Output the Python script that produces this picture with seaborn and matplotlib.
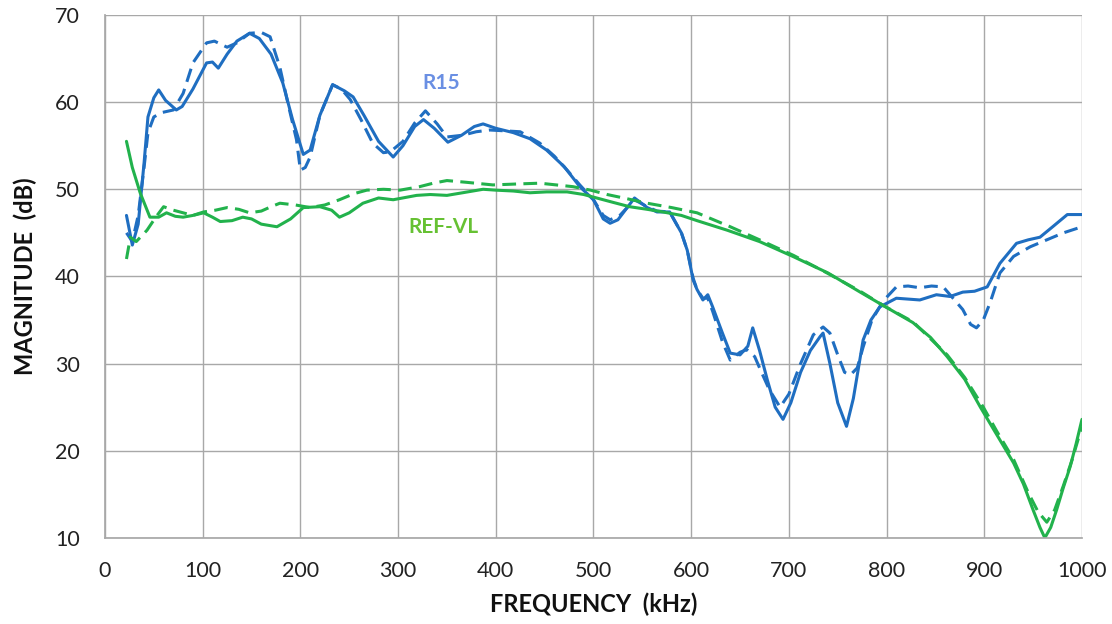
import matplotlib
matplotlib.use("Agg")
import matplotlib.pyplot as plt
import seaborn as sns
import pandas as pd

# ---- data (frequency kHz, magnitude dB) ----
r15_solid_f = [22, 28, 34, 40, 44, 50, 55, 62, 73, 79, 90, 104, 110, 116, 125, 135, 148, 158, 170, 182,
               192, 203, 210, 220, 233, 245, 254, 265, 280, 295, 305, 317, 326, 337, 351, 365, 378, 387,
               400, 418, 435, 452, 470, 486, 500, 510, 517, 525, 542, 555, 565, 578, 590, 596, 602, 606,
               612, 617, 622, 632, 640, 650, 658, 663, 670, 678, 686, 694, 702, 712, 722, 732, 735, 742,
               750, 759, 766, 776, 784, 793, 810, 822, 834, 851, 865, 878, 890, 903, 916, 933, 945, 957,
               970, 985, 1000]
r15_solid_db = [47.0, 43.6, 46, 53, 58.3, 60.5, 61.4, 60.2, 59.1, 59.5, 61.5, 64.5, 64.6, 63.9, 65.5, 67,
                67.9, 67.3, 65.5, 62.2, 58, 54.0, 54.5, 58.5, 62, 61.3, 60.6, 58.5, 55.5, 53.7, 55, 57.2,
                58.0, 57, 55.4, 56.2, 57.2, 57.5, 57, 56.5, 55.8, 54.5, 52.6, 50.3, 48.8, 46.6, 46.1, 46.5,
                49.0, 47.9, 47.4, 47.4, 45, 43.0, 39.6, 38.5, 37.3, 37.9, 36.5, 33.5, 31.2, 31.0, 32, 34.1,
                31.5, 28.1, 25, 23.6, 25.5, 29, 31.5, 33.1, 33.5, 30, 25.5, 22.8, 26, 32.7, 35, 36.5, 37.5,
                37.4, 37.3, 37.9, 37.7, 38.2, 38.3, 38.8, 41.5, 43.8, 44.2, 44.5, 45.7, 47.1, 47.1]

r15_dash_f = [22, 28, 34, 40, 44, 50, 58, 70, 80, 90, 104, 112, 125, 135, 148, 160, 169, 179, 188, 196,
              200, 205, 210, 220, 233, 242, 251, 262, 274, 285, 292, 305, 317, 328, 340, 350, 366, 380,
              394, 410, 425, 445, 460, 473, 486, 500, 510, 517, 527, 542, 555, 565, 578, 590, 596, 602,
              606, 612, 617, 622, 632, 640, 650, 657, 665, 672, 680, 691, 700, 712, 725, 735, 742, 750,
              757, 763, 770, 776, 785, 793, 800, 810, 822, 834, 846, 858, 868, 878, 886, 892, 899, 906,
              916, 930, 947, 964, 981, 1000]
r15_dash_db = [45.0, 44.0, 47, 52.5, 56.5, 58.3, 58.8, 59.1, 61, 64.5, 66.8, 67.0, 66.3, 66.8, 67.9, 68.0,
               67.5, 64, 59.5, 55.7, 52.2, 52.5, 53.7, 58.5, 62, 61.5, 60.3, 58, 55.3, 54.2, 54.3, 55.5,
               57.6, 59.0, 57.5, 56.0, 56.2, 56.6, 56.8, 56.7, 56.6, 55.3, 53.8, 52.2, 50.5, 48.8, 47,
               46.5, 47, 48.8, 48, 47.5, 47.4, 45, 43, 39.8, 38.5, 37.5, 37.5, 36, 32.5, 30.4, 31.3, 31.6,
               30.8, 29, 27, 25.0, 26.5, 30, 33.3, 34.2, 33.5, 31, 29, 28.7, 29.5, 31.9, 35, 36.5, 37.6,
               38.8, 38.9, 38.7, 38.9, 38.8, 37.5, 36.2, 34.5, 34.1, 35, 37.0, 40.4, 42.3, 43.4, 44.2,
               45.0, 45.7]

ref_solid_f = [22, 28, 36, 46, 55, 63, 72, 80, 90, 101, 110, 118, 130, 141, 150, 160, 176, 190, 203, 220,
               232, 240, 250, 264, 280, 295, 319, 333, 350, 366, 387, 400, 418, 435, 452, 473, 490, 500,
               520, 537, 555, 571, 590, 606, 637, 670, 704, 740, 773, 796, 827, 845, 862, 880, 896, 913,
               930, 940, 950, 957, 962, 968, 974, 981, 988, 994, 1000]
ref_solid_db = [55.5, 52.5, 49.6, 46.8, 46.8, 47.3, 46.9, 46.8, 47, 47.3, 46.8, 46.3, 46.4, 46.8, 46.6, 46,
                45.7, 46.6, 47.9, 48.0, 47.6, 46.8, 47.3, 48.4, 49.0, 48.8, 49.3, 49.4, 49.3, 49.6, 50.0,
                49.9, 49.8, 49.6, 49.7, 49.7, 49.4, 49.1, 48.5, 48.0, 47.7, 47.4, 47, 46.4, 45.3, 44, 42.3,
                40.4, 38.2, 36.7, 34.7, 33.0, 30.8, 28.2, 25.0, 21.8, 18.6, 16.2, 13.2, 11.2, 10.0, 11.2,
                13.2, 15.8, 18.2, 20.8, 23.6]

ref_dash_f = [22, 26, 32, 43, 52, 60, 70, 80, 90, 101, 113, 125, 137, 148, 160, 170, 179, 195, 210, 225,
              240, 255, 268, 285, 302, 322, 336, 350, 370, 397, 420, 445, 462, 479, 497, 514, 535, 555,
              580, 606, 640, 670, 705, 739, 773, 796, 827, 862, 880, 899, 913, 930, 945, 955, 964, 972,
              981, 990, 1000]
ref_dash_db = [42.0, 44.5, 44, 45.3, 46.8, 48.0, 47.6, 47.3, 47, 47.4, 47.6, 47.9, 47.7, 47.3, 47.5, 48.0,
               48.4, 48.2, 47.9, 48.2, 48.8, 49.5, 49.9, 50, 49.9, 50.3, 50.7, 51.0, 50.8, 50.5, 50.6,
               50.7, 50.5, 50.3, 49.9, 49.4, 48.9, 48.4, 47.9, 47.3, 45.7, 44.2, 42.4, 40.4, 38.3, 36.7,
               34.8, 31.0, 28.4, 25.0, 22.2, 19.0, 15.2, 13, 11.8, 13.2, 16, 19, 22.8]

x_ticks = [0, 100, 200, 300, 400, 500, 600, 700, 800, 900, 1000]
y_ticks = [10, 20, 30, 40, 50, 60, 70]

BLUE = "#1F6EC1"
GREEN = "#22B24C"

sns.set_theme(style="whitegrid")
plt.rcParams["font.family"] = ["Lato", "DejaVu Sans"]

fig = plt.figure(figsize=(11.12, 6.24), dpi=100)
ax = fig.add_axes([0.0944, 0.138, 0.8786, 0.838])

series = [
    (r15_solid_f, r15_solid_db, BLUE, "-"),
    (r15_dash_f, r15_dash_db, BLUE, "--"),
    (ref_solid_f, ref_solid_db, GREEN, "-"),
    (ref_dash_f, ref_dash_db, GREEN, "--"),
]
for f, db, col, ls in series:
    df = pd.DataFrame({"f": f, "db": db})
    sns.lineplot(data=df, x="f", y="db", ax=ax, color=col, linewidth=2.2,
                 sort=False, estimator=None)
    l = ax.lines[-1]
    if ls == "--":
        l.set_dashes((4.5, 2.4))
    l.set_solid_capstyle("round")
    l.set_solid_joinstyle("round")

ax.set_xlim(0, 1000)
ax.set_ylim(10, 70)
ax.set_xticks(x_ticks)
ax.set_yticks(y_ticks)
ax.tick_params(axis="x", labelsize=15.5, colors="#222222", length=0, pad=17)
ax.tick_params(axis="y", labelsize=15.5, colors="#222222", length=0, pad=18)
ax.grid(True, color="#A8A8A8", linewidth=1.0)
for s in ax.spines.values():
    s.set_visible(False)
ax.spines["left"].set_visible(True)
ax.spines["bottom"].set_visible(True)
ax.spines["left"].set_color("#A8A8A8")
ax.spines["bottom"].set_color("#A8A8A8")

ax.set_xlabel("FREQUENCY  (kHz)", fontsize=17, fontweight="bold", color="#111111", labelpad=8)
ax.set_ylabel("MAGNITUDE  (dB)", fontsize=17, fontweight="bold", color="#111111", labelpad=13)

ax.text(344, 62.2, "R15", color="#6A8FE3", fontsize=15, fontweight="bold", ha="center", va="center")
ax.text(346, 45.7, "REF-VL", color="#66C133", fontsize=15, fontweight="bold", ha="center", va="center")

fig.savefig("out.png", dpi=100)
